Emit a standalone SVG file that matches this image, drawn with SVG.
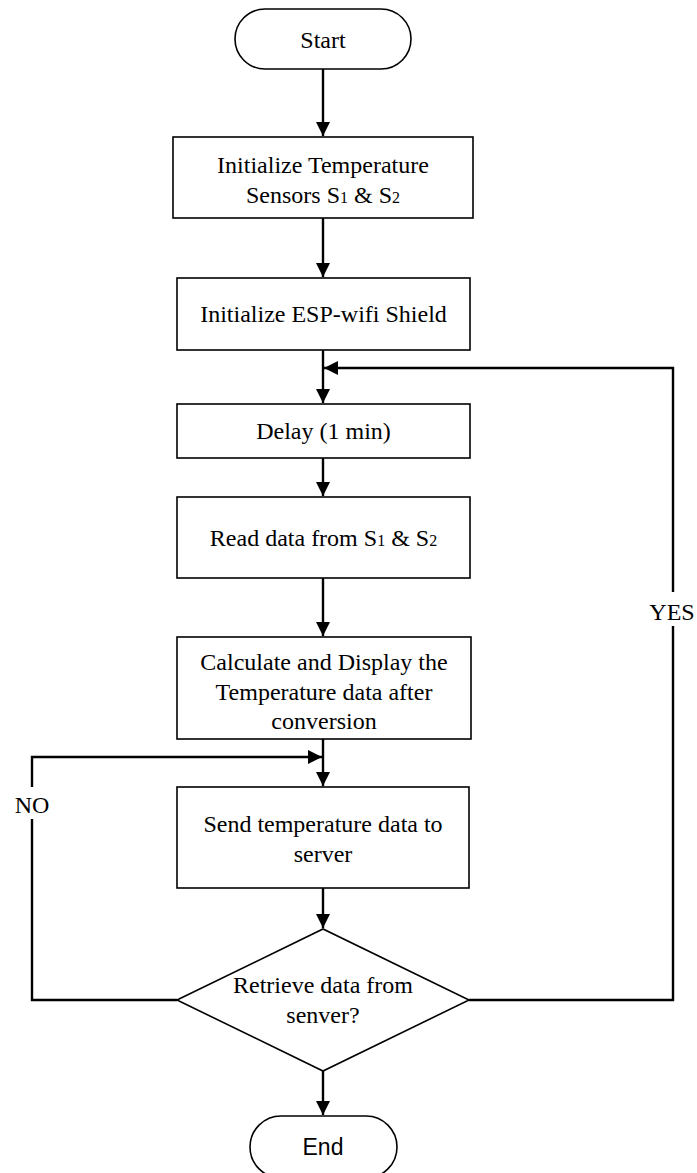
<svg xmlns="http://www.w3.org/2000/svg" width="697" height="1173" viewBox="0 0 697 1173">
<style>
.box{fill:#fff;stroke:#000;stroke-width:1.6}
.t{font-family:"Liberation Serif","Times New Roman",serif;font-size:24px;fill:#000;text-anchor:middle}
.ts{font-family:"Liberation Sans",Arial,sans-serif;font-size:23px;fill:#000;text-anchor:middle}
.sub{font-size:16px}
.c{fill:none;stroke:#000;stroke-width:2.4}
.lbl{fill:#fff;stroke:none}
</style>
<defs>
<marker id="ah" viewBox="0 0 10 10" refX="10" refY="5" markerWidth="14" markerHeight="14" markerUnits="userSpaceOnUse" orient="auto">
<path d="M0,0 L10,5 L0,10 Z" fill="#000"/>
</marker>
</defs>
<g id="connectors">
<line class="c" x1="323" y1="69" x2="323" y2="136" marker-end="url(#ah)"/>
<line class="c" x1="323" y1="218" x2="323" y2="277" marker-end="url(#ah)"/>
<line class="c" x1="323" y1="350" x2="323" y2="403" marker-end="url(#ah)"/>
<line class="c" x1="323" y1="458" x2="323" y2="496" marker-end="url(#ah)"/>
<line class="c" x1="323" y1="578" x2="323" y2="636" marker-end="url(#ah)"/>
<line class="c" x1="323" y1="739" x2="323" y2="786" marker-end="url(#ah)"/>
<line class="c" x1="323" y1="888" x2="323" y2="928" marker-end="url(#ah)"/>
<line class="c" x1="323" y1="1071" x2="323" y2="1115" marker-end="url(#ah)"/>
<polyline class="c" points="469,1000 673,1000 673,368 324,368" marker-end="url(#ah)"/>
<polyline class="c" points="177,1000 32,1000 32,757 322,757" marker-end="url(#ah)"/>
<rect class="lbl" x="648" y="592" width="49" height="34"/>
<text class="t" x="672" y="620">YES</text>
<rect class="lbl" x="12" y="787" width="40" height="32"/>
<text class="t" x="32" y="813">NO</text>
</g>
<g id="start">
<rect class="box" x="235" y="9" width="176" height="60" rx="30" ry="30"/>
<text class="t" x="323" y="48">Start</text>
</g>
<g id="init-sensors">
<rect class="box" x="173" y="137" width="300" height="81"/>
<text class="t" x="323" y="173">Initialize Temperature</text>
<text class="t" x="323" y="203">Sensors S<tspan class="sub">1</tspan> &amp; S<tspan class="sub">2</tspan></text>
</g>
<g id="init-esp">
<rect class="box" x="177" y="278" width="293" height="72"/>
<text class="t" x="323.5" y="322">Initialize ESP-wifi Shield</text>
</g>
<g id="delay">
<rect class="box" x="177" y="404" width="293" height="54"/>
<text class="t" x="323.5" y="439">Delay (1 min)</text>
</g>
<g id="read">
<rect class="box" x="177" y="497" width="293" height="81"/>
<text class="t" x="323.5" y="546">Read data from S<tspan class="sub">1</tspan> &amp; S<tspan class="sub">2</tspan></text>
</g>
<g id="calculate">
<rect class="box" x="177" y="637" width="294" height="102"/>
<text class="t" x="324" y="670">Calculate and Display the</text>
<text class="t" x="324" y="700">Temperature data after</text>
<text class="t" x="324" y="729">conversion</text>
</g>
<g id="send">
<rect class="box" x="177" y="787" width="292" height="101"/>
<text class="t" x="323" y="832">Send temperature data to</text>
<text class="t" x="323" y="862">server</text>
</g>
<g id="decision">
<polygon class="box" points="177,1000 323,929 469,1000 323,1071"/>
<text class="t" x="323" y="993">Retrieve data from</text>
<text class="t" x="323" y="1023">senver?</text>
</g>
<g id="end">
<rect class="box" x="250" y="1116" width="147" height="62" rx="31" ry="31"/>
<text class="ts" x="323" y="1155">End</text>
</g>
</svg>
